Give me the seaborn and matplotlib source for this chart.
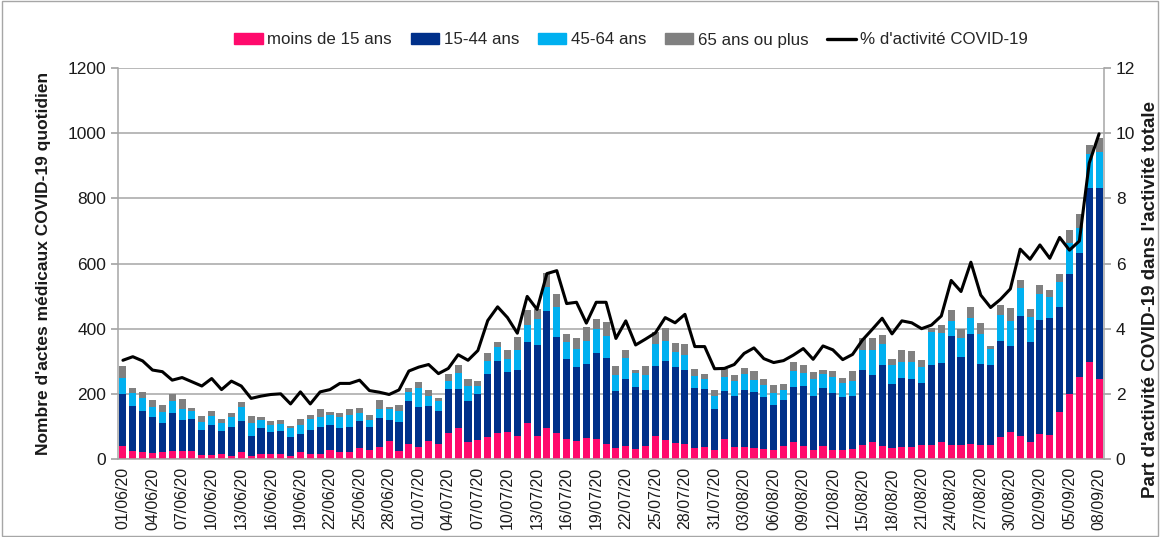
import numpy as np
import pandas as pd
import matplotlib
matplotlib.use("Agg")
import matplotlib.pyplot as plt
import matplotlib.patches as mpatches
import matplotlib.lines as mlines
import seaborn as sns
from datetime import date, timedelta

# ---------------- data ----------------
start = date(2020, 6, 1)
dates = [(start + timedelta(days=i)).strftime("%d/%m/%y") for i in range(100)]

moins15 = [41, 25, 20, 18, 20, 26, 26, 26, 12, 12, 14, 10, 21, 10, 14, 14, 14, 10, 21, 16,
           16, 28, 21, 23, 34, 28, 36, 54, 25, 45, 36, 56, 46, 80, 94, 52, 59, 68, 80, 82,
           72, 111, 70, 94, 80, 61, 55, 63, 61, 47, 33, 39, 32, 39, 70, 59, 49, 45, 34, 37,
           28, 62, 37, 37, 35, 30, 28, 39, 53, 41, 28, 41, 28, 28, 31, 44, 52, 39, 35, 38,
           37, 44, 42, 51, 44, 42, 46, 44, 44, 67, 84, 71, 53, 78, 75, 143, 200, 252, 298, 247]
a15_44 = [158, 137, 127, 111, 89, 114, 94, 97, 78, 93, 71, 87, 97, 61, 80, 68, 73, 59, 56, 73,
          82, 76, 75, 76, 84, 71, 91, 66, 89, 134, 125, 108, 102, 134, 120, 127, 140, 194, 221, 186,
          202, 248, 280, 361, 295, 247, 226, 230, 265, 262, 175, 208, 190, 174, 216, 241, 232, 228, 184, 177,
          124, 146, 155, 174, 171, 159, 137, 143, 169, 183, 165, 177, 174, 161, 161, 230, 206, 250, 195, 211,
          208, 189, 248, 245, 335, 272, 338, 249, 245, 296, 262, 368, 307, 349, 358, 322, 368, 379, 533, 586]
a45_64 = [51, 41, 40, 31, 36, 38, 34, 23, 24, 27, 25, 31, 42, 38, 25, 23, 20, 25, 27, 34,
          32, 30, 34, 35, 23, 21, 26, 32, 32, 27, 58, 29, 31, 25, 49, 44, 25, 40, 42, 40,
          62, 53, 79, 74, 92, 50, 56, 70, 73, 68, 51, 62, 41, 45, 67, 63, 46, 47, 37, 33,
          41, 45, 46, 51, 36, 38, 37, 29, 47, 41, 54, 44, 51, 43, 48, 61, 77, 65, 57, 50,
          52, 50, 101, 90, 44, 58, 50, 91, 48, 78, 79, 85, 76, 79, 64, 79, 96, 79, 105, 110]
a65p = [36, 16, 18, 22, 21, 22, 31, 12, 17, 14, 14, 13, 15, 22, 9, 13, 14, 6, 19, 12,
        22, 10, 11, 18, 16, 14, 28, 9, 19, 12, 17, 20, 8, 23, 26, 21, 16, 23, 16, 26,
        39, 46, 30, 42, 40, 27, 34, 42, 32, 42, 27, 25, 11, 28, 38, 38, 28, 32, 21, 15,
        18, 22, 21, 16, 29, 17, 26, 20, 30, 25, 21, 10, 16, 16, 31, 35, 35, 27, 20, 35,
        33, 22, 10, 24, 35, 27, 31, 32, 9, 33, 37, 25, 23, 28, 23, 25, 39, 42, 29, 41]
pct_covid = [3.03, 3.14, 3.01, 2.73, 2.68, 2.42, 2.50, 2.37, 2.24, 2.47, 2.13, 2.39, 2.24, 1.86, 1.93,
             1.98, 2.00, 1.69, 2.06, 1.69, 2.06, 2.13, 2.32, 2.32, 2.42, 2.10, 2.05, 1.98, 2.12, 2.70,
             2.82, 2.90, 2.62, 2.78, 3.20, 3.03, 3.33, 4.25, 4.67, 4.34, 3.86, 4.99, 4.59, 5.69, 5.78,
             4.77, 4.81, 4.17, 4.81, 4.81, 3.70, 4.24, 3.50, 3.68, 3.87, 4.34, 4.18, 4.44, 3.45, 3.45,
             2.77, 2.78, 2.90, 3.24, 3.41, 3.08, 2.96, 3.02, 3.19, 3.39, 3.06, 3.47, 3.35, 3.05, 3.21,
             3.65, 3.98, 4.32, 3.84, 4.24, 4.18, 4.00, 4.11, 4.39, 5.48, 5.14, 6.04, 5.03, 4.65, 4.90,
             5.22, 6.44, 6.13, 6.57, 6.16, 6.80, 6.41, 6.69, 9.08, 9.98]

series_names = ["moins de 15 ans", "15-44 ans", "45-64 ans", "65 ans ou plus"]
line_name = "% d'activité COVID-19"
colors = ["#FF0A6C", "#00308A", "#00B0F0", "#808080"]

# ---------------- figure ----------------
sns.set_theme(style="white")
plt.rcParams["font.family"] = ["Liberation Sans", "DejaVu Sans"]

fig = plt.figure(figsize=(11.6, 5.37), dpi=100)
ax = fig.add_axes([118 / 1160, 1 - 459 / 537, (1104 - 118) / 1160, (459 - 68) / 537])

df = pd.DataFrame({"date": dates, "p": moins15, "a": a15_44, "b": a45_64, "c": a65p})
df["l1"] = df["p"]
df["l2"] = df["l1"] + df["a"]
df["l3"] = df["l2"] + df["b"]
df["l4"] = df["l3"] + df["c"]

for col, color in zip(["l4", "l3", "l2", "l1"], colors[::-1]):
    sns.barplot(data=df, x="date", y=col, color=color, saturation=1, width=0.72,
                ax=ax, order=dates, errorbar=None, linewidth=0, zorder=2)

ax.set_xlim(-0.5, 99.5)
ax.set_ylim(0, 1200)
ax.set_yticks(range(0, 1201, 200))
ax.yaxis.grid(True, color="#A6A6A6", linewidth=1.1, zorder=0)
ax.set_axisbelow(True)
ax.set_xlabel("")
ax.set_ylabel("Nombre d'actes médicaux COVID-19 quotidien", fontsize=12.5,
              fontweight="bold", color="#1a1a1a", labelpad=12)

ax.set_xticks(range(0, 100, 3))
ax.set_xticklabels([dates[i] for i in range(0, 100, 3)], rotation=90, fontsize=11.5,
                   color="#1a1a1a")
ax.set_xticks(np.arange(-0.5, 100, 1), minor=True)
ax.tick_params(axis="x", which="major", length=0, pad=6)
ax.tick_params(axis="x", which="minor", length=5, color="#A6A6A6", width=1, direction="out")
ax.tick_params(axis="y", labelsize=12.5, labelcolor="#1a1a1a", length=5, color="#A6A6A6",
               direction="out", left=True)

for s in ["left", "bottom", "right"]:
    ax.spines[s].set_color("#A6A6A6")
    ax.spines[s].set_linewidth(1.1)
ax.spines["top"].set_visible(False)

ax2 = ax.twinx()
sns.lineplot(x=np.arange(len(pct_covid)), y=pct_covid, ax=ax2, color="black",
             linewidth=2.2, zorder=5)
ax2.set_ylim(0, 12)
ax2.set_yticks(range(0, 13, 2))
ax2.tick_params(axis="y", labelsize=12.5, labelcolor="#1a1a1a", length=5, color="#A6A6A6",
                direction="out", right=True)
for s in ["left", "bottom", "right", "top"]:
    ax2.spines[s].set_visible(False)
ax2.set_ylabel("")
ax2.grid(False)

fig.text(1142 / 1160, 1 - 300 / 537, "Part d'activité COVID-19 dans l'activité totale",
         rotation=90, ha="left", va="center", fontsize=13.5, fontweight="bold", color="#1a1a1a")

handles = [mpatches.Patch(color=c, label=n) for c, n in zip(colors, series_names)]
handles.append(mlines.Line2D([], [], color="black", linewidth=2.4, label=line_name))
fig.legend(handles=handles, loc="center", bbox_to_anchor=(631 / 1160, 1 - 40 / 537), ncol=5,
           frameon=False, fontsize=12.2, handlelength=1.7, handleheight=0.6,
           handletextpad=0.25, columnspacing=1.1)

fig.add_artist(mpatches.Rectangle((0.002, 0.002), 0.996, 0.996, transform=fig.transFigure,
                                  fill=False, edgecolor="#A6A6A6", linewidth=1))

fig.savefig("out.png", dpi=100)
